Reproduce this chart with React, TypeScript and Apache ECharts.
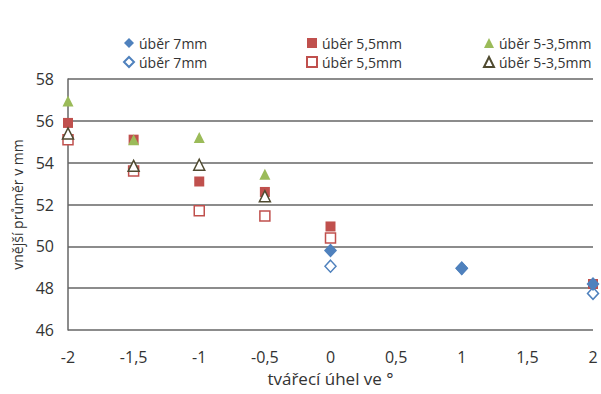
import React, { useEffect, useRef } from "react";
import * as echarts from "echarts";

// forming angle (x) and measured outer diameter (y) per series
const angles7 = [0, 1, 2];
const filled7 = [49.8, 48.95, 48.2];
const hollow7 = [49.05, 48.95, 47.75];

const angles55 = [-2, -1.5, -1, -0.5, 0, 2];
const filled55 = [55.9, 55.1, 53.1, 52.6, 50.95, 48.2];
const anglesH55 = [-2, -1.5, -1, -0.5, 0];
const hollow55 = [55.1, 53.6, 51.7, 51.45, 50.4];

const angles535 = [-2, -1.5, -1, -0.5];
const filled535 = [56.95, 55.1, 55.2, 53.45];
const hollow535 = [55.4, 53.85, 53.9, 52.4];

const xTicks = [-2, -1.5, -1, -0.5, 0, 0.5, 1, 1.5, 2];
const yTicks = [46, 48, 50, 52, 54, 56, 58];

const BLUE = "#4F81BD";
const RED = "#C0504D";
const GREEN = "#9BBB59";
const DARK = "#4f4a30";
const GRID = "#666";
const FONT = "'Open Sans', 'Noto Sans', sans-serif";

const pair = (xs: number[], ys: number[]) => xs.map((x, i) => [x, ys[i]]);
const fmt = (v: number) => String(v).replace(".", ",");

export default function App() {
  const ref = useRef<HTMLDivElement>(null);

  useEffect(() => {
    if (!ref.current) return;
    const chart = echarts.init(ref.current, undefined, { renderer: "svg" });
    const legendCommon = {
      orient: "vertical" as const,
      top: 36,
      itemGap: 5,
      itemWidth: 10,
      itemHeight: 10,
      padding: 0,
      textStyle: { fontFamily: FONT, fontSize: 14, lineHeight: 14, color: "#333" },
      formatter: (n: string) => n.replace(/\s#\d$/, ""),
    };
    const filled = (color: string) => ({ color, opacity: 1 });
    const hollow = (color: string) => ({ color: "#fff", borderColor: color, borderWidth: 1.5, opacity: 1 });
    chart.setOption({
      animation: false,
      backgroundColor: "#fff",
      legend: [
        { ...legendCommon, left: 123, data: ["úběr 7mm #1", "úběr 7mm #2"] },
        { ...legendCommon, left: 306, data: ["úběr 5,5mm #1", "úběr 5,5mm #2"] },
        { ...legendCommon, left: 483, data: ["úběr 5-3,5mm #1", "úběr 5-3,5mm #2"] },
      ],
      grid: { left: 68, right: 8, top: 79, bottom: 64 },
      xAxis: {
        type: "value",
        min: -2,
        max: 2,
        interval: 0.5,
        name: "tvářecí úhel ve °",
        nameLocation: "middle",
        nameGap: 36,
        nameTextStyle: { fontFamily: FONT, fontSize: 17, color: "#333" },
        axisLine: { show: false },
        axisTick: { show: false },
        splitLine: { show: false },
        axisLabel: {
          fontFamily: FONT,
          fontSize: 16,
          color: "#333",
          margin: 19,
          formatter: (v: number) => (xTicks.includes(v) ? fmt(v) : ""),
        },
      },
      yAxis: {
        type: "value",
        min: 46,
        max: 58,
        interval: 2,
        name: "vnější průměr v mm",
        nameLocation: "middle",
        nameGap: 36,
        nameTextStyle: { fontFamily: FONT, fontSize: 14, color: "#333" },
        axisLine: { show: true, onZero: false, lineStyle: { color: GRID, width: 1.5 } },
        axisTick: { show: false },
        splitLine: { show: true, lineStyle: { color: GRID, width: 1.5 } },
        axisLabel: {
          fontFamily: FONT,
          fontSize: 16,
          color: "#333",
          margin: 14,
          formatter: (v: number) => (yTicks.includes(v) ? String(v) : ""),
        },
      },
      series: [
        {
          name: "úběr 5,5mm #1",
          type: "scatter",
          symbol: "rect",
          symbolSize: 10,
          itemStyle: filled(RED),
          data: pair(angles55, filled55),
        },
        {
          name: "úběr 5-3,5mm #1",
          type: "scatter",
          symbol: "triangle",
          symbolSize: 11,
          itemStyle: filled(GREEN),
          data: pair(angles535, filled535),
        },
        {
          name: "úběr 7mm #2",
          type: "scatter",
          symbol: "diamond",
          symbolSize: [11, 12],
          itemStyle: hollow(BLUE),
          data: pair(angles7, hollow7),
        },
        {
          name: "úběr 5,5mm #2",
          type: "scatter",
          symbol: "rect",
          symbolSize: 10,
          itemStyle: hollow(RED),
          data: pair(anglesH55, hollow55),
        },
        {
          name: "úběr 5-3,5mm #2",
          type: "scatter",
          symbol: "triangle",
          symbolSize: 11,
          itemStyle: hollow(DARK),
          data: pair(angles535, hollow535),
        },
        {
          name: "úběr 7mm #1",
          type: "scatter",
          symbol: "diamond",
          symbolSize: [13, 14],
          itemStyle: filled(BLUE),
          data: pair(angles7, filled7),
        },
      ],
    });
    return () => chart.dispose();
  }, []);

  return <div ref={ref} style={{ width: 601, height: 394, position: "absolute", left: 0, top: 0 }} />;
}
